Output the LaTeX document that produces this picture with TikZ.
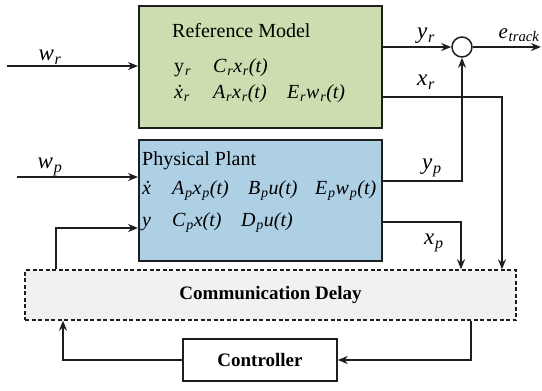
\documentclass[tikz,border=0pt]{standalone}
\usepackage{fontspec}
\setmainfont{Liberation Serif}
\usetikzlibrary{arrows.meta}
\definecolor{refgreen}{RGB}{204,221,176}
\definecolor{plantblue}{RGB}{174,208,229}
\definecolor{linegray}{RGB}{30,30,30}
\definecolor{delayfill}{RGB}{240,242,242}
\newcommand\sbs[1]{\kern0.8pt\textsubscript{\itshape #1}}
\begin{document}
\begin{tikzpicture}[x=1pt,y=-1pt,
  blk/.style={draw=linegray,line width=1.6pt,inner sep=0pt},
  conn/.style={line width=1.5pt,draw=linegray,-{Stealth[length=10pt,width=8pt]}},
  lbl/.style={font=\fontsize{23}{26}\selectfont\itshape, inner sep=0pt},
  txt/.style={font=\fontsize{20}{23}\selectfont, anchor=base west, inner sep=0pt},
  btxt/.style={font=\fontsize{19}{22}\selectfont\bfseries, inner sep=0pt}]
\useasboundingbox (0,0) rectangle (542,391);
% blocks
\node[blk, fill=refgreen, minimum width=243pt, minimum height=122pt, anchor=north west] (ref) at (138,5) {};
\node[blk, fill=plantblue, minimum width=243pt, minimum height=121pt, anchor=north west] (plant) at (138,139) {};
\node[draw=linegray, line width=1.4pt, dashed, dash pattern=on 4pt off 2.5pt, fill=delayfill,
      minimum width=491pt, minimum height=50pt, inner sep=0pt] (delay) at (270.5,295) {};
\node[blk, fill=white, minimum width=154pt, minimum height=42pt] (ctrl) at (260,360) {};
\node[circle, draw=linegray, line width=1.5pt, fill=white, minimum size=20pt, inner sep=0pt] (sum) at (462,47) {};
% texts in blocks
\node[txt] (rtitle) at (172,37) {Reference Model};
\node[txt] (ry) at (174,72) {y\sbs{r}};
\node[txt] (rc) at (213,72) {\itshape C\sbs{r}x\sbs{r}(t)};
\node[txt] (rxd) at (174,98) {\itshape \.{x}\sbs{r}};
\node[txt] (ra) at (213,98) {\itshape A\sbs{r}x\sbs{r}(t)};
\node[txt] (re) at (287,98) {\itshape E\sbs{r}w\sbs{r}(t)};
\node[txt] (ptitle) at (142,165) {Physical Plant};
\node[txt] (pxd) at (142,194) {\itshape \.{x}};
\node[txt] (pa) at (172,194) {\itshape A\sbs{p}x\sbs{p}(t)};
\node[txt] (pb) at (248,194) {\itshape B\sbs{p}u(t)};
\node[txt] (pe) at (315,194) {\itshape E\sbs{p}w\sbs{p}(t)};
\node[txt] (py) at (142,226) {\itshape y};
\node[txt] (pc) at (172,226) {\itshape C\sbs{p}x(t)};
\node[txt] (pd) at (241,226) {\itshape D\sbs{p}u(t)};
\node[btxt] (dtxt) at (delay) {Communication Delay};
\node[btxt] (ctxt) at (ctrl) {Controller};
% labels
\node[lbl] (lwr) at (50,57) {w\sbs{r}};
\node[lbl] (lwp) at (50,167) {w\sbs{p}};
\node[lbl] (lyr) at (426,36) {y\sbs{r}};
\node[lbl, font=\fontsize{21}{24}\selectfont\itshape] (let) at (519,35) {e\sbs{track}};
\node[lbl] (lxr) at (426,82) {x\sbs{r}};
\node[lbl] (lyp) at (432,168) {y\sbs{p}};
\node[lbl] (lxp) at (434,243) {x\sbs{p}};
% connectors
\coordinate (wrs) at (7,66);
\coordinate (wps) at (17,177);
\coordinate (eend) at (541,47);
\draw[conn] (wrs) -- (wrs -| ref.west);
\draw[conn] (wps) -- (wps -| plant.west);
\draw[conn] (ref.east |- sum) -- (sum.west);
\draw[conn] (sum.east) -- (eend);
\draw[conn] (ref.east |- 0,97) -| (delay.north -| 502,0);
\draw[conn] (plant.east |- 0,181) -| (sum.south);
\draw[conn] (plant.east |- 0,222) -| (delay.north -| 461,0);
\draw[conn] (delay.north -| 56,0) |- (plant.west |- 0,228);
\draw[conn] (ctrl.west) -| (delay.south -| 63,0);
\draw[conn] (delay.south -| 471,0) |- (ctrl.east);
\end{tikzpicture}
\end{document}
